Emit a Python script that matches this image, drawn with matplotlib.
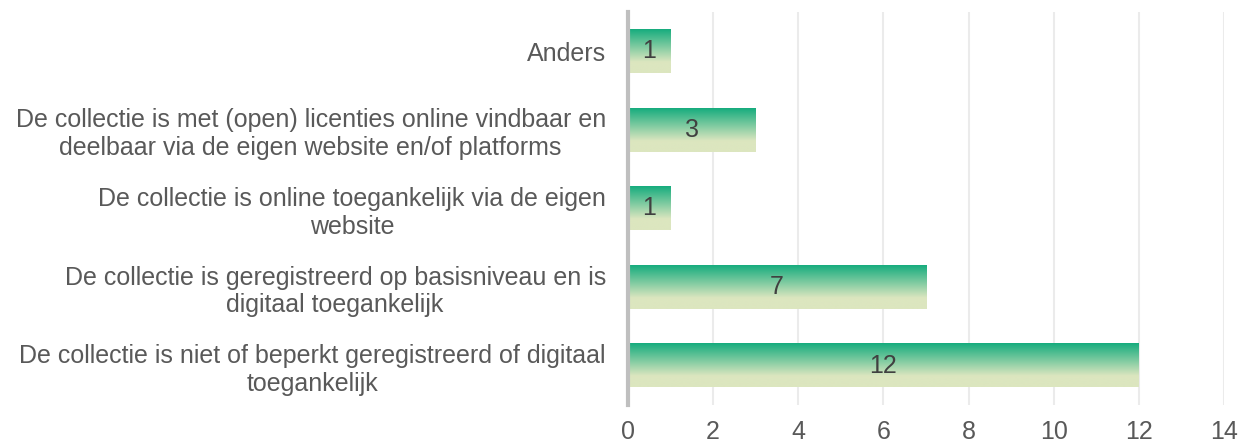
import matplotlib
matplotlib.use("Agg")
import matplotlib.pyplot as plt
import numpy as np
from matplotlib.colors import LinearSegmentedColormap

categories = [
    "De collectie is niet of beperkt geregistreerd of digitaal\ntoegankelijk",
    "De collectie is geregistreerd op basisniveau en is\ndigitaal toegankelijk",
    "De collectie is online toegankelijk via de eigen\nwebsite",
    "De collectie is met (open) licenties online vindbaar en\ndeelbaar via de eigen website en/of platforms",
    "Anders",
]
values = [12, 7, 1, 3, 1]
xticks = [0, 2, 4, 6, 8, 10, 12, 14]

plt.rcParams['font.family'] = ['Liberation Sans', 'DejaVu Sans']
fig = plt.figure(figsize=(12.47, 4.42), dpi=100)
ax = fig.add_axes([628/1247, 1-405/442, (1224-628)/1247, (405-12)/442])

cmap = LinearSegmentedColormap.from_list("g", [(0, "#16AC7E"), (0.75, "#DCE6BF"), (1.0, "#DCE6BF")])
grad = np.linspace(0, 1, 256).reshape(-1, 1)
h = 0.55
y = np.arange(len(categories))
bars = ax.barh(y, values, height=h, color="none", edgecolor="none", zorder=2)
for b in bars:
    x0, y0 = b.get_x(), b.get_y()
    w, hh = b.get_width(), b.get_height()
    ax.imshow(grad, cmap=cmap, aspect="auto", extent=(x0, x0 + w, y0, y0 + hh),
              origin="upper", zorder=2)
for yi, v in zip(y, values):
    ax.text(v / 2, yi, str(v), ha="center", va="center", fontsize=18, color="#404040", zorder=3)

ax.set_xlim(0, 14)
ax.set_ylim(-0.5, len(categories) - 0.5)
ax.set_xticks(xticks)
ax.set_yticks(y)
ax.set_yticklabels(categories, fontsize=18, color="#595959", ha="right",
                   multialignment="center", linespacing=1.2)
ax.tick_params(axis="x", labelsize=18, labelcolor="#595959", length=0, pad=11)
ax.tick_params(axis="y", length=0, pad=16)
ax.grid(axis="x", color="#EBEBEB", linewidth=1.5, zorder=0)
ax.set_axisbelow(True)
for s in ["top", "right", "bottom"]:
    ax.spines[s].set_visible(False)
ax.spines["left"].set_color("#BFBFBF")
ax.spines["left"].set_linewidth(3)
ax.spines["left"].set_zorder(4)

fig.savefig("out.png", dpi=100)
